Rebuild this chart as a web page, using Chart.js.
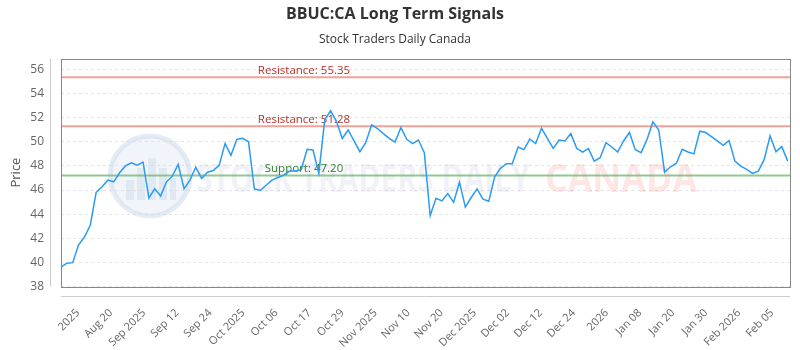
<!DOCTYPE html>
<html>
<head>
<meta charset="utf-8">
<title>BBUC:CA Long Term Signals</title>
<script src="https://cdn.jsdelivr.net/npm/chart.js@4.4.1/dist/chart.umd.min.js"></script>
<style>
  html, body { margin: 0; padding: 0; background: #fff; }
  #wrap { width: 800px; height: 350px; }
</style>
</head>
<body>
<div id="wrap"><canvas id="signalChart" width="800" height="350"></canvas></div>
<script>
/* BBUC:CA — long term signals chart */
const FONT = "'Open Sans', sans-serif";

// daily closes
const prices = [
  39.60, 39.93, 39.98, 41.46, 42.10, 43.10, 45.80, 46.27, 46.82, 46.68,
  47.43, 48.00, 48.26, 48.07, 48.32, 45.35, 46.10, 45.50, 46.68, 47.15,
  48.12, 46.12, 46.82, 47.90, 46.96, 47.48, 47.62, 48.07, 49.85, 48.88,
  50.20, 50.29, 50.00, 46.10, 45.96, 46.40, 46.82, 47.04, 47.23, 47.57,
  47.57, 47.70, 49.38, 49.32, 47.38, 51.82, 52.57, 51.70, 50.27, 50.98,
  50.07, 49.18, 49.93, 51.40, 51.10, 50.68, 50.29, 49.98, 51.18, 50.21,
  49.85, 50.15, 49.10, 43.88, 45.32, 45.10, 45.71, 44.98, 46.65, 44.58,
  45.38, 46.10, 45.24, 45.07, 47.10, 47.80, 48.18, 48.18, 49.57, 49.35,
  50.23, 49.85, 51.12, 50.29, 49.46, 50.15, 50.07, 50.68, 49.46, 49.15,
  49.43, 48.40, 48.68, 49.93, 49.57, 49.15, 50.07, 50.77, 49.35, 49.10,
  50.20, 51.65, 50.98, 47.48, 47.93, 48.20, 49.38, 49.15, 49.00, 50.88,
  50.77, 50.43, 50.07, 49.71, 50.10, 48.40, 47.98, 47.71, 47.38, 47.57,
  48.54, 50.49, 49.18, 49.60, 48.40
];

const xTickLabels = [
  "2025", "Aug 20", "Sep 2025", "Sep 12", "Sep 24", "Oct 2025", "Oct 06", "Oct 17",
  "Oct 29", "Nov 2025", "Nov 10", "Nov 20", "Dec 2025", "Dec 02", "Dec 12", "Dec 24",
  "2026", "Jan 08", "Jan 20", "Jan 30", "Feb 2026", "Feb 05"
];
const yTicks = [38, 40, 42, 44, 46, 48, 50, 52, 54, 56];

const resistanceLevels = [55.35, 51.28];
const supportLevels = [47.20];

// tick labels sit on an even grid, not on trading days
const X_TICK_START = 2.9, X_TICK_STEP = 5.64;

function drawWatermark(ctx, area) {
  ctx.save();
  // round logo
  const cx = 150, cy = 176, r = 40;
  ctx.beginPath();
  ctx.arc(cx, cy, r, 0, Math.PI * 2);
  ctx.fillStyle = "rgba(215,225,240,0.35)";
  ctx.fill();
  ctx.lineWidth = 5;
  ctx.strokeStyle = "rgba(200,212,232,0.45)";
  ctx.stroke();
  ctx.fillStyle = "rgba(195,208,228,0.35)";
  [[-24, 10, 8, 20], [-13, -2, 8, 32], [-2, -12, 8, 42], [9, -2, 8, 32], [20, 8, 6, 22]].forEach(b => {
    ctx.fillRect(cx + b[0], cy + b[1] - 6, b[2], b[3]);
  });
  // wordmark
  ctx.font = "bold 40px " + FONT;
  ctx.textBaseline = "middle";
  const fit = (txt, x, w, color) => {
    const m = ctx.measureText(txt).width;
    ctx.save();
    ctx.translate(x, 181);
    ctx.scale(w / m, 1);
    ctx.fillStyle = color;
    ctx.fillText(txt, 0, 0);
    ctx.restore();
  };
  fit("STOCK TRADERS DAILY", 196, 334, "rgba(185,198,222,0.22)");
  fit("CANADA", 545, 152, "rgba(240,130,130,0.2)");
  ctx.restore();
}

const signalPlugin = {
  id: "signals",
  beforeDatasetsDraw(chart) {
    const { ctx, chartArea: a, scales } = chart;
    drawWatermark(ctx, a);

    // frame + detached axis lines
    ctx.save();
    ctx.strokeStyle = "#888";
    ctx.lineWidth = 1;
    ctx.strokeRect(Math.round(a.left) + 0.5, Math.round(a.top) + 0.5,
      Math.round(a.right - a.left), Math.round(a.bottom - a.top));
    ctx.strokeStyle = "#ccc";
    ctx.beginPath();
    ctx.moveTo(Math.round(a.left) - 10.5, a.top);
    ctx.lineTo(Math.round(a.left) - 10.5, a.bottom);
    ctx.moveTo(a.left, Math.round(a.bottom) + 9.5);
    ctx.lineTo(a.right, Math.round(a.bottom) + 9.5);
    ctx.stroke();

    // support / resistance
    const labelX = a.left + (a.right - a.left) / 3;
    const level = (v, lineColor, textColor, name) => {
      const y = scales.y.getPixelForValue(v);
      ctx.beginPath();
      ctx.moveTo(a.left + 1, y);
      ctx.lineTo(a.right, y);
      ctx.lineWidth = 2;
      ctx.strokeStyle = lineColor;
      ctx.stroke();
      ctx.font = "11.5px " + FONT;
      ctx.fillStyle = textColor;
      ctx.textAlign = "center";
      ctx.textBaseline = "bottom";
      ctx.fillText(name + ": " + v.toFixed(2), labelX, y - 1);
    };
    resistanceLevels.forEach(v => level(v, "rgba(238,120,110,0.7)", "#b5312a", "Resistance"));
    supportLevels.forEach(v => level(v, "rgba(110,180,110,0.75)", "#2f7d32", "Support"));
    ctx.restore();
  }
};

new Chart(document.getElementById("signalChart"), {
  type: "line",
  data: {
    datasets: [{
      label: "BBUC:CA",
      data: prices.map((p, i) => ({ x: i, y: p })),
      borderColor: "#2b9bf4",
      borderWidth: 1.5,
      pointRadius: 0,
      tension: 0,
      fill: false
    }]
  },
  options: {
    responsive: false,
    animation: false,
    devicePixelRatio: 1,
    layout: { padding: { left: 0, right: 10, top: 0, bottom: 0 } },
    plugins: {
      legend: { display: false },
      tooltip: { enabled: false },
      title: {
        display: true, text: "BBUC:CA Long Term Signals", color: "#333",
        font: { family: FONT, size: 16, weight: "bold" }, padding: { top: 5, bottom: 4 }
      },
      subtitle: {
        display: true, text: "Stock Traders Daily Canada", color: "#333",
        font: { family: FONT, size: 12 }, padding: { top: 4, bottom: 12 }
      }
    },
    scales: {
      x: {
        type: "linear",
        min: 0,
        max: prices.length - 0.6,
        afterBuildTicks: s => { s.ticks = xTickLabels.map((l, i) => ({ value: X_TICK_START + i * X_TICK_STEP })); },
        afterFit: s => { s.height = 63.5; },
        grid: { display: false },
        border: { display: false },
        ticks: {
          autoSkip: false, maxRotation: 45, minRotation: 45, padding: 12,
          color: "#666", font: { family: FONT, size: 11 },
          callback: (v, i) => xTickLabels[i]
        }
      },
      y: {
        min: 38,
        max: 56.9,
        afterBuildTicks: s => { s.ticks = yTicks.map(v => ({ value: v })); },
        afterFit: s => { s.width = 61; },
        grid: { color: "#e4e4e4", drawTicks: false },
        border: { display: false, dash: [3, 3] },
        ticks: { padding: 17, color: "#666", font: { family: FONT, size: 12 } },
        title: { display: true, text: "Price", color: "#555", font: { family: FONT, size: 13 }, padding: { top: 8, bottom: 0 } }
      }
    }
  },
  plugins: [signalPlugin]
});
</script>
</body>
</html>
